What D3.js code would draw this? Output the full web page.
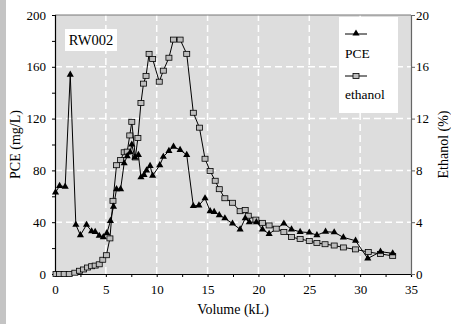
<!DOCTYPE html>
<html>
<head>
<meta charset="utf-8">
<script src="https://cdn.jsdelivr.net/npm/d3@7"></script>
<style>
  body { margin: 0; background: #fff; }
  svg text { font-family: "Liberation Serif", "Times New Roman", serif; fill: #000; }
</style>
</head>
<body>
<div id="chart"></div>
<script>
// PCE concentration (mg/L) vs pumped volume (kL)
const pceVolume = [0.05, 0.45, 1.0, 1.5, 2.05, 2.5, 3.1, 3.6, 3.95, 4.35, 4.75, 5.1, 5.45, 5.75, 6.05, 6.45,
    6.8, 7.1, 7.4, 7.55, 7.85, 8.2, 8.45, 8.75, 9.0, 9.35, 9.6, 10.3, 10.65, 11.2, 11.65, 12.3, 12.95,
    13.6, 14.15, 14.75, 15.25, 15.65, 16.15, 16.7, 17.45, 18.2, 18.7, 19.1, 19.8, 20.4, 21.05, 22.5,
    23.25, 24.1, 25.0, 25.75, 26.6, 27.45, 28.35, 29.55, 30.75, 32.0, 33.2];
const pceValues = [63, 68, 67.5, 154, 38, 30, 38, 33, 32.5, 29.5, 28.5, 31.5, 41, 52, 65.5, 65.5,
    85.5, 91, 94, 100, 90, 92, 74.7, 76.5, 80, 83.5, 76, 84, 90.5, 95, 98.3, 95.8, 92,
    52.5, 53, 58.5, 48.5, 48, 45.5, 43, 39, 34.5, 43, 40, 40, 34.5, 31, 39,
    34.5, 32.5, 32, 30, 32.7, 32.2, 28.3, 25.7, 12, 17.2, 16];

// ethanol (%) vs pumped volume (kL)
const ethVolume = [0.1, 0.45, 0.9, 1.4, 1.95, 2.4, 2.8, 3.2, 3.6, 3.95, 4.35, 4.7, 5.05, 5.4, 5.7, 6.05,
    6.45, 6.8, 7.1, 7.35, 7.55, 7.9, 8.15, 8.45, 8.7, 8.95, 9.25, 9.6, 10.25, 10.65, 11.2, 11.65,
    12.3, 12.95, 13.6, 14.2, 14.75, 15.25, 15.75, 16.15, 16.7, 17.45, 18.2, 18.7, 19.0, 19.75,
    20.4, 21.05, 21.75, 22.5, 23.25, 24.1, 25.0, 25.75, 26.55, 27.45, 28.35, 29.55, 30.8, 32.0, 33.2];
const ethValues = [0, 0, 0, 0, 0.1, 0.25, 0.35, 0.5, 0.6, 0.65, 0.75, 1.1, 1.45, 2.75, 5.65, 8.4,
    8.8, 9.4, 9.45, 10.7, 11.75, 9.0, 10.5, 13.2, 14.7, 15.3, 17.0, 16.6, 14.85, 15.7, 16.7, 18.1,
    18.1, 17.0, 12.45, 11.3, 8.9, 7.95, 7.2, 6.55, 5.85, 5.5, 4.85, 4.95, 4.5, 4.2,
    3.95, 3.75, 3.5, 3.25, 2.85, 2.7, 2.55, 2.4, 2.3, 2.2, 2.05, 1.9, 1.7, 1.55, 1.4];

const xTicks = [0, 5, 10, 15, 20, 25, 30, 35];
const pceTicks = [0, 40, 80, 120, 160, 200];
const ethTicks = [0, 4, 8, 12, 16, 20];

const W = 451, H = 324;
const margin = { top: 15, right: 40, bottom: 50, left: 55 };

const svg = d3.select('#chart').append('svg')
    .attr('width', W)
    .attr('height', H);

// grey strip on the left edge
svg.append('rect').attr('x', 0).attr('y', 0).attr('width', 6).attr('height', H).attr('fill', '#c4c4c4');

const x = d3.scaleLinear().domain([0, 35]).range([margin.left, W - margin.right]);
const yL = d3.scaleLinear().domain([0, 200]).range([H - margin.bottom, margin.top]);
const yR = d3.scaleLinear().domain([0, 20]).range([H - margin.bottom, margin.top]);

// plot background
svg.append('rect')
    .attr('x', x(0)).attr('y', yL(200))
    .attr('width', x(35) - x(0)).attr('height', yL(0) - yL(200))
    .attr('fill', '#dddddd');

// dashed white grid
svg.append('g').selectAll('line')
    .data(xTicks.filter(d => d > 0 && d < 35))
    .join('line')
    .attr('x1', d => x(d)).attr('x2', d => x(d))
    .attr('y1', yL(0)).attr('y2', yL(200))
    .attr('stroke', '#fff').attr('stroke-width', 1.5).attr('stroke-dasharray', '7,4');
svg.append('g').selectAll('line')
    .data(pceTicks.filter(d => d > 0 && d < 200))
    .join('line')
    .attr('x1', x(0)).attr('x2', x(35))
    .attr('y1', d => yL(d)).attr('y2', d => yL(d))
    .attr('stroke', '#fff').attr('stroke-width', 1.5).attr('stroke-dasharray', '7,4');

// top border
svg.append('line')
    .attr('x1', x(0)).attr('x2', x(35)).attr('y1', yL(200)).attr('y2', yL(200))
    .attr('stroke', '#777');

// axes
const fmt = d3.format('d');
const gx = svg.append('g')
    .attr('transform', `translate(0,${yL(0)})`)
    .call(d3.axisBottom(x).tickValues(d3.range(0, 35.1, 2.5)).tickSize(3)
        .tickFormat(d => xTicks.includes(d) ? fmt(d) : ''));
gx.selectAll('text').attr('dy', '1.1em').style('font-size', '13px');

const gl = svg.append('g')
    .attr('transform', `translate(${x(0)},0)`)
    .call(d3.axisLeft(yL).tickValues(d3.range(0, 201, 20)).tickSize(3)
        .tickFormat(d => pceTicks.includes(d) ? fmt(d) : ''));
gl.selectAll('text').attr('x', -9).style('font-size', '13px');

const gr = svg.append('g')
    .attr('transform', `translate(${x(35)},0)`)
    .call(d3.axisRight(yR).tickValues(ethTicks).tickSize(4).tickFormat(fmt));
gr.selectAll('text').attr('x', 5).style('font-size', '13px');
gr.select('.domain').attr('stroke', '#666');
gr.selectAll('.tick line').attr('stroke', '#666');

svg.selectAll('.domain').attr('stroke-width', 1.2);
svg.selectAll('.tick text').style('font-family', '"Liberation Serif", serif');

// axis titles
svg.append('text')
    .attr('x', (x(0) + x(35)) / 2).attr('y', 314)
    .attr('text-anchor', 'middle').style('font-size', '14px')
    .text('Volume (kL)');
svg.append('text')
    .attr('transform', `translate(20,${(yL(0) + yL(200)) / 2}) rotate(-90)`)
    .attr('text-anchor', 'middle').style('font-size', '14px')
    .text('PCE (mg/L)');
svg.append('text')
    .attr('transform', `translate(448,${(yL(0) + yL(200)) / 2}) rotate(-90)`)
    .attr('text-anchor', 'middle').style('font-size', '14px')
    .text('Ethanol (%)');

// series
const pceData = pceVolume.map((v, i) => ({ v, c: pceValues[i] }));
const ethData = ethVolume.map((v, i) => ({ v, c: ethValues[i] }));

const tri = d3.symbol().type(d3.symbolTriangle).size(22);

svg.append('path')
    .datum(ethData)
    .attr('fill', 'none').attr('stroke', '#000').attr('stroke-width', 1)
    .attr('d', d3.line().x(d => x(d.v)).y(d => yR(d.c)));
svg.append('path')
    .datum(pceData)
    .attr('fill', 'none').attr('stroke', '#000').attr('stroke-width', 1)
    .attr('d', d3.line().x(d => x(d.v)).y(d => yL(d.c)));

svg.append('g').selectAll('rect')
    .data(ethData)
    .join('rect')
    .attr('x', d => x(d.v) - 3).attr('y', d => yR(d.c) - 2.5)
    .attr('width', 6).attr('height', 5)
    .attr('fill', '#bdbdbd').attr('stroke', '#000').attr('stroke-width', 0.8);

svg.append('g').selectAll('path')
    .data(pceData)
    .join('path')
    .attr('transform', d => `translate(${x(d.v)},${yL(d.c)})`)
    .attr('d', tri)
    .attr('fill', '#000');

// well label
svg.append('rect').attr('x', 65).attr('y', 29).attr('width', 52).attr('height', 22).attr('fill', '#fff');
svg.append('text').attr('x', 91).attr('y', 45).attr('text-anchor', 'middle')
    .style('font-size', '14.5px').text('RW002');

// legend
const lg = svg.append('g');
lg.append('rect').attr('x', 339).attr('y', 17).attr('width', 59).attr('height', 96).attr('fill', '#fff');
lg.append('line').attr('x1', 345).attr('x2', 367).attr('y1', 34).attr('y2', 34).attr('stroke', '#000');
lg.append('path').attr('transform', 'translate(356,33.5)').attr('d', tri).attr('fill', '#000');
lg.append('text').attr('x', 345).attr('y', 58).style('font-size', '13.5px').text('PCE');
lg.append('line').attr('x1', 345).attr('x2', 367).attr('y1', 76).attr('y2', 76).attr('stroke', '#000');
lg.append('rect').attr('x', 353).attr('y', 73.5).attr('width', 6).attr('height', 5)
    .attr('fill', '#bdbdbd').attr('stroke', '#000').attr('stroke-width', 0.8);
lg.append('text').attr('x', 345).attr('y', 99).style('font-size', '13.5px').text('ethanol');
</script>
</body>
</html>
